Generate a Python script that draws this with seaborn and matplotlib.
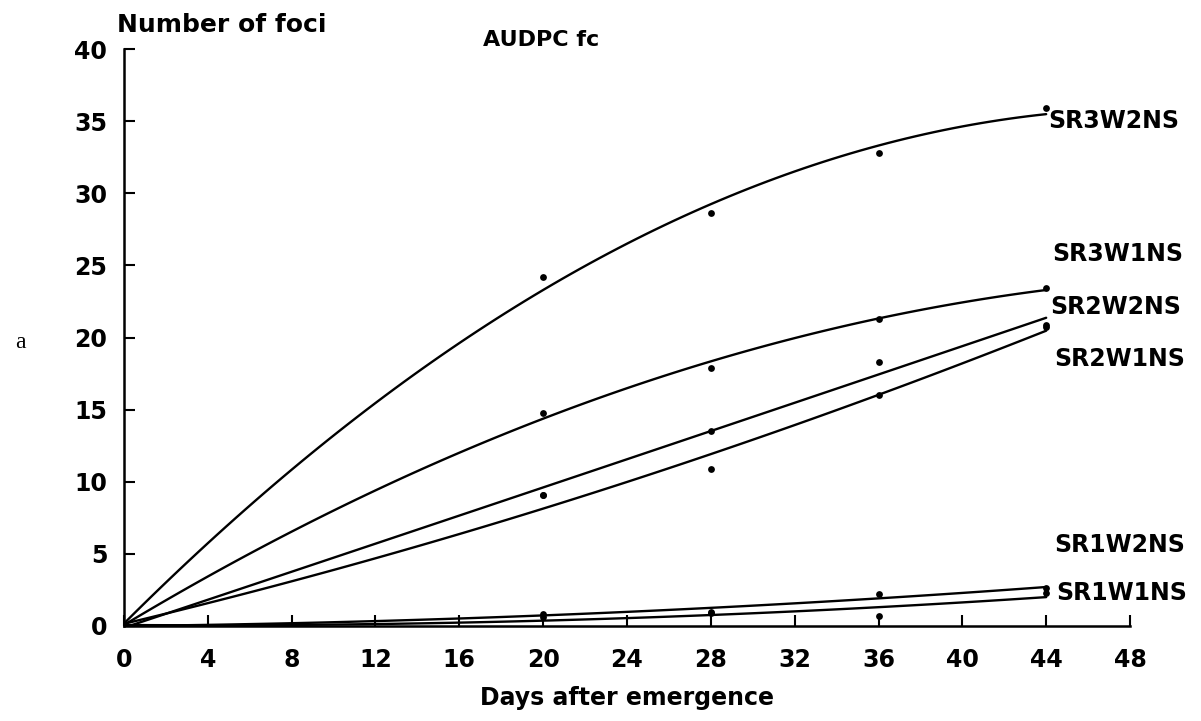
import matplotlib
matplotlib.use("Agg")
import matplotlib.pyplot as plt
import seaborn as sns
import pandas as pd

sns.set_theme(style="ticks")
plt.rcParams["font.family"] = ["DejaVu Sans"]
plt.rcParams["text.color"] = "black"
plt.rcParams["axes.labelcolor"] = "black"
plt.rcParams["xtick.color"] = "black"
plt.rcParams["ytick.color"] = "black"

# ---------------- data ----------------
days = [0, 20, 28, 36, 44]
series_names = ["SR3W2NS", "SR3W1NS", "SR2W2NS", "SR2W1NS", "SR1W2NS", "SR1W1NS"]
sr3w2ns = [0, 24.2, 28.6, 32.8, 35.9]
sr3w1ns = [0, 14.8, 17.9, 21.3, 23.4]
sr2w2ns = [0, 9.1, 13.5, 18.3, 20.9]
sr2w1ns = [0, 9.1, 10.9, 16.0, 20.7]
sr1w2ns = [0, 0.8, 1.0, 2.2, 2.6]
sr1w1ns = [0, 0.6, 0.9, 0.7, 2.3]
x_ticks = [0, 4, 8, 12, 16, 20, 24, 28, 32, 36, 40, 44, 48]
y_ticks = [0, 5, 10, 15, 20, 25, 30, 35, 40]

values = [sr3w2ns, sr3w1ns, sr2w2ns, sr2w1ns, sr1w2ns, sr1w1ns]
df = pd.DataFrame(
    [(d, v, name) for name, vals in zip(series_names, values) for d, v in zip(days, vals)],
    columns=["day", "foci", "series"],
)

# label placement (data coordinates)
label_pos = {
    "SR3W2NS": (44.1, 35.0),
    "SR3W1NS": (44.3, 25.8),
    "SR2W2NS": (44.2, 22.1),
    "SR2W1NS": (44.4, 18.5),
    "SR1W2NS": (44.4, 5.6),
    "SR1W1NS": (44.5, 2.3),
}

fig = plt.figure(figsize=(12.01, 7.21), dpi=100)
ax = fig.add_axes([0.1032, 0.1318, 0.8377, 0.8002])

for name in series_names:
    sub = df[df["series"] == name]
    sns.regplot(data=sub, x="day", y="foci", order=2, ci=None, ax=ax,
                scatter=False, truncate=True,
                line_kws=dict(color="black", lw=1.7))
    sns.scatterplot(data=sub, x="day", y="foci", ax=ax, color="black",
                    s=24, edgecolor="black", linewidth=0, zorder=5)
    lx, ly = label_pos[name]
    ax.text(lx, ly, name, fontsize=17, fontweight="bold", ha="left", va="center",
            clip_on=False, color="black")

ax.set_xlim(0, 48)
ax.set_ylim(0, 40)
ax.set_xticks(x_ticks)
ax.set_yticks(y_ticks)
ax.tick_params(direction="in", length=8, width=1.5, colors="black",
               labelsize=17, pad=12)
ax.tick_params(axis="x", pad=16)
for lab in ax.get_xticklabels() + ax.get_yticklabels():
    lab.set_fontweight("bold")
for s in ["top", "right"]:
    ax.spines[s].set_visible(False)
for s in ["left", "bottom"]:
    ax.spines[s].set_linewidth(1.8)
    ax.spines[s].set_color("black")

ax.set_xlabel("Days after emergence", fontsize=17, fontweight="bold", labelpad=10,
              color="black")
ax.set_ylabel("")

fig.text(117 / 1201, 1 - 25 / 721, "Number of foci", fontsize=18, fontweight="bold",
         ha="left", va="center", color="black")
fig.text(541 / 1201, 1 - 40 / 721, "AUDPC fc", fontsize=16, fontweight="bold",
         ha="center", va="center", color="black")
fig.text(20 / 1201, 1 - 343 / 721, "a", fontsize=17, family="Liberation Serif",
         ha="center", va="center", color="black")

fig.savefig("out.png", dpi=100, facecolor="white")
